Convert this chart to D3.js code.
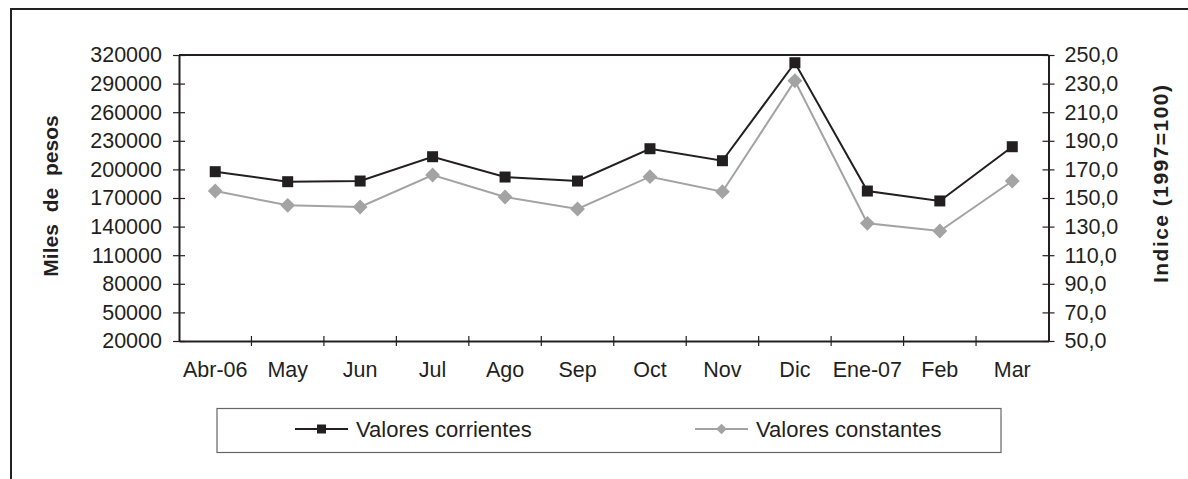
<!DOCTYPE html>
<html>
<head>
<meta charset="utf-8">
<script src="https://cdn.jsdelivr.net/npm/d3@7"></script>
<style>
  body { margin: 0; background: #fff; }
  svg { display: block; font-family: "Liberation Sans", Arial, sans-serif; }
  .axis path, .axis line { stroke: #231f20; }
  .axis text { fill: #231f20; font-size: 21.5px; font-family: "Liberation Sans", Arial, sans-serif; }
</style>
</head>
<body>
<svg id="chart" width="1188" height="479"></svg>
<script>
// data
var meses = ['Abr-06', 'May', 'Jun', 'Jul', 'Ago', 'Sep', 'Oct', 'Nov', 'Dic', 'Ene-07', 'Feb', 'Mar'];
var corrientes = [197600, 187100, 187800, 213300, 192000, 187800, 221700, 209100, 311900, 177300, 166900, 223800];
var constantes = [154.9, 144.9, 143.7, 166.1, 150.7, 142.3, 164.9, 154.4, 232.0, 132.3, 126.9, 161.9];
var ticksIzq = [20000, 50000, 80000, 110000, 140000, 170000, 200000, 230000, 260000, 290000, 320000];
var ticksDer = [50, 70, 90, 110, 130, 150, 170, 190, 210, 230, 250];
var nombres = ['Valores corrientes', 'Valores constantes'];

var negro = '#231f20';
var gris = '#a3a3a3';

var svg = d3.select('#chart');

// outer frame (cut off at right and bottom like the original)
svg.append('rect')
  .attr('x', 11).attr('y', 9)
  .attr('width', 1200).attr('height', 500)
  .attr('fill', 'none')
  .attr('stroke', '#222')
  .attr('stroke-width', 2);

var plot = { left: 179, right: 1048.5, top: 55, bottom: 341 };

var x = d3.scaleBand()
  .domain(meses)
  .range([plot.left, plot.right])
  .padding(0);

var yIzq = d3.scaleLinear()
  .domain([20000, 320000])
  .range([plot.bottom, plot.top]);

var yDer = d3.scaleLinear()
  .domain([50, 250])
  .range([plot.bottom, plot.top]);

// plot area top border
svg.append('line')
  .attr('x1', plot.left).attr('x2', plot.right)
  .attr('y1', plot.top).attr('y2', plot.top)
  .attr('stroke', negro)
  .attr('stroke-width', 2);

// left axis
var ejeIzq = svg.append('g')
  .attr('class', 'axis')
  .attr('transform', 'translate(' + plot.left + ',0)')
  .call(d3.axisLeft(yIzq).tickValues(ticksIzq).tickFormat(d3.format('d'))
    .tickSize(6).tickPadding(11).tickSizeOuter(0));
ejeIzq.select('.domain').attr('stroke-width', 2);
ejeIzq.selectAll('.tick line').attr('x1', 6).attr('stroke-width', 1.2);

// right axis
var ejeDer = svg.append('g')
  .attr('class', 'axis')
  .attr('transform', 'translate(' + plot.right + ',0)')
  .call(d3.axisRight(yDer).tickValues(ticksDer)
    .tickFormat(function(d) { return d.toFixed(1).replace('.', ','); })
    .tickSize(6).tickPadding(10).tickSizeOuter(0));
ejeDer.select('.domain').attr('stroke-width', 2);
ejeDer.selectAll('.tick line').attr('x1', -6).attr('stroke-width', 1.2);

// bottom axis: labels centred on categories, ticks between them
var ejeX = svg.append('g')
  .attr('class', 'axis')
  .attr('transform', 'translate(0,' + plot.bottom + ')')
  .call(d3.axisBottom(x).tickSize(0).tickPadding(21));
ejeX.select('.domain').attr('stroke-width', 2);
ejeX.selectAll('.sep')
  .data(d3.range(1, meses.length))
  .enter().append('line')
  .attr('class', 'sep')
  .attr('x1', function(i) { return plot.left + i * x.step(); })
  .attr('x2', function(i) { return plot.left + i * x.step(); })
  .attr('y1', -5).attr('y2', 5)
  .attr('stroke', negro)
  .attr('stroke-width', 1.2);

// axis titles
svg.append('text')
  .attr('transform', 'translate(51,196) rotate(-90)')
  .attr('text-anchor', 'middle')
  .attr('font-size', 21)
  .attr('font-weight', 'bold')
  .attr('word-spacing', 6)
  .attr('fill', negro)
  .attr('dy', '0.35em')
  .text('Miles de pesos');

svg.append('text')
  .attr('transform', 'translate(1161,184) rotate(-90)')
  .attr('text-anchor', 'middle')
  .attr('font-size', 21)
  .attr('font-weight', 'bold')
  .attr('fill', negro)
  .attr('textLength', 198)
  .attr('lengthAdjust', 'spacing')
  .attr('dy', '0.35em')
  .text('Indice (1997=100)');

var cx = function(d, i) { return x(meses[i]) + x.bandwidth() / 2; };

// valores constantes (right axis)
var lineaDer = d3.line()
  .x(cx)
  .y(function(d) { return yDer(d); });

svg.append('path')
  .datum(constantes)
  .attr('fill', 'none')
  .attr('stroke', gris)
  .attr('stroke-width', 2)
  .attr('d', lineaDer);

var diamante = d3.symbol().type(d3.symbolDiamond2).size(140);
svg.selectAll('.diam')
  .data(constantes)
  .enter().append('path')
  .attr('class', 'diam')
  .attr('d', diamante)
  .attr('fill', gris)
  .attr('transform', function(d, i) { return 'translate(' + cx(d, i) + ',' + yDer(d) + ')'; });

// valores corrientes (left axis)
var lineaIzq = d3.line()
  .x(cx)
  .y(function(d) { return yIzq(d); });

svg.append('path')
  .datum(corrientes)
  .attr('fill', 'none')
  .attr('stroke', negro)
  .attr('stroke-width', 2)
  .attr('d', lineaIzq);

svg.selectAll('.cuad')
  .data(corrientes)
  .enter().append('rect')
  .attr('class', 'cuad')
  .attr('x', function(d, i) { return cx(d, i) - 5.5; })
  .attr('y', function(d) { return yIzq(d) - 5.5; })
  .attr('width', 11)
  .attr('height', 11)
  .attr('fill', negro);

// legend
var leyenda = svg.append('g');
leyenda.append('rect')
  .attr('x', 217).attr('y', 408.5)
  .attr('width', 784).attr('height', 44)
  .attr('fill', 'none')
  .attr('stroke', '#666')
  .attr('stroke-width', 1.2);

var itemX = [295, 695];
var ly = 429;
nombres.forEach(function(n, i) {
  var g = leyenda.append('g').attr('transform', 'translate(' + itemX[i] + ',' + ly + ')');
  g.append('line')
    .attr('x1', 0).attr('x2', 53)
    .attr('y1', 0).attr('y2', 0)
    .attr('stroke', i === 0 ? negro : gris)
    .attr('stroke-width', 2);
  if (i === 0) {
    g.append('rect')
      .attr('x', 22).attr('y', -4.5)
      .attr('width', 9).attr('height', 9)
      .attr('fill', negro);
  } else {
    g.append('path')
      .attr('d', d3.symbol().type(d3.symbolDiamond2).size(70))
      .attr('transform', 'translate(26.5,0)')
      .attr('fill', gris);
  }
  g.append('text')
    .attr('x', 61)
    .attr('dy', '0.35em')
    .attr('font-size', 22)
    .attr('fill', negro)
    .text(n);
});
</script>
</body>
</html>
